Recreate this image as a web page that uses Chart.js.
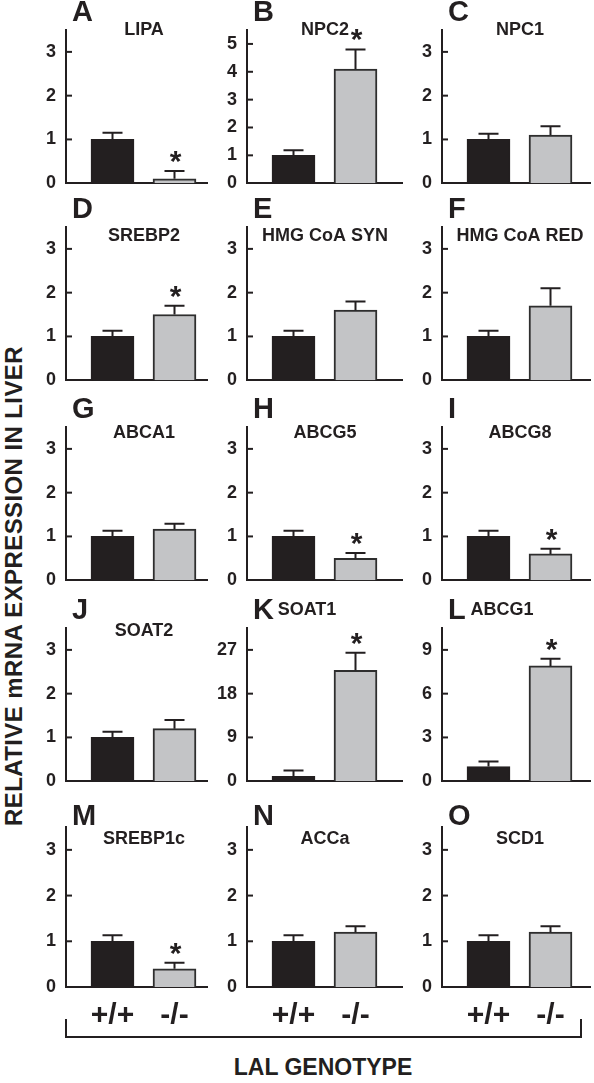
<!DOCTYPE html>
<html>
<head>
<meta charset="utf-8">
<script src="https://cdn.jsdelivr.net/npm/chart.js@4.4.1/dist/chart.umd.min.js"></script>
<style>
  body { margin: 0; background: #fff; width: 594px; height: 1083px; position: relative; overflow: hidden;
         font-family: Arial, "Liberation Sans", Helvetica, sans-serif; color: #231f20; }
  canvas { position: absolute; }
  .ylab { position: absolute; left: 14px; top: 586px; transform: translate(-50%, -50%) rotate(-90deg);
          font-weight: bold; font-size: 24px; letter-spacing: 0.4px; white-space: nowrap; }
  .bracket { position: absolute; left: 65px; top: 1019px; width: 517px; height: 19px; box-sizing: border-box;
             border: 2.5px solid #231f20; border-top: none; }
  .xlab { position: absolute; left: 323px; top: 1067px; transform: translate(-50%, -50%);
          font-weight: bold; font-size: 23px; white-space: nowrap; }
</style>
</head>
<body>
<div class="ylab">RELATIVE mRNA EXPRESSION IN LIVER</div>
<div class="bracket"></div>
<div class="xlab">LAL GENOTYPE</div>
<script>
// values: +/+ (black) vs -/- (grey), mean and upper error
const genotypes = ['+/+', '-/-'];
const letters = ['A','B','C','D','E','F','G','H','I','J','K','L','M','N','O'];
const genes = ['LIPA','NPC2','NPC1','SREBP2','HMG CoA SYN','HMG CoA RED','ABCA1','ABCG5','ABCG8',
               'SOAT2','SOAT1','ABCG1','SREBP1c','ACCa','SCD1'];
const wildType    = [1.0, 1.0, 1.0, 1.0, 1.0, 1.0, 1.0, 1.0, 1.0, 1.0, 1.0, 1.0, 1.0, 1.0, 1.0];
const wildTypeErr = [0.15, 0.18, 0.13, 0.13, 0.13, 0.13, 0.13, 0.13, 0.13, 0.13, 1.2, 0.35, 0.13, 0.13, 0.13];
const knockout    = [0.1, 4.1, 1.1, 1.5, 1.6, 1.7, 1.17, 0.5, 0.6, 1.2, 22.8, 7.9, 0.4, 1.2, 1.2];
const knockoutErr = [0.18, 0.7, 0.2, 0.2, 0.2, 0.4, 0.12, 0.12, 0.12, 0.2, 3.6, 0.5, 0.13, 0.13, 0.13];
const significant = [1, 1, 0, 1, 0, 0, 0, 1, 1, 0, 1, 1, 1, 0, 0];
const yMax  = [3.5, 5.5, 3.5, 3.5, 3.5, 3.5, 3.5, 3.5, 3.5, 3.5, 31.5, 10.5, 3.5, 3.5, 3.5];
const yStep = [1, 1, 1, 1, 1, 1, 1, 1, 1, 1, 9, 3, 1, 1, 1];

// layout
const colX = [66, 247, 442], colLen = [141, 155, 148];
const rowZero = [190, 387, 587, 788, 987];
const titleDy = [148, 148, 148, 139, 139, 139, 142, 142, 142, 145, 166, 166, 143, 143, 143];
const ink = '#231f20';
const FONT = 'Arial, "Liberation Sans", sans-serif';
const PX_PER_X = 62;   // distance between the two bar centres
const TOP = 30;        // canvas space above the axis top

const decor = {
  id: 'decor',
  afterDatasetsDraw(chart) {
    const ctx = chart.ctx, i = chart.options.panel;
    const y = chart.scales.y, meta = chart.getDatasetMeta(0);
    const means = [wildType[i], knockout[i]], errs = [wildTypeErr[i], knockoutErr[i]];
    ctx.save();
    ctx.strokeStyle = ink; ctx.lineWidth = 2;
    meta.data.forEach((bar, j) => {
      const yt = y.getPixelForValue(means[j] + errs[j]);
      ctx.beginPath();
      ctx.moveTo(bar.x, bar.y); ctx.lineTo(bar.x, yt);
      ctx.moveTo(bar.x - 10, yt); ctx.lineTo(bar.x + 10, yt);
      ctx.stroke();
      if (j === 1 && significant[i]) {
        ctx.font = 'bold 30px ' + FONT; ctx.fillStyle = ink; ctx.textAlign = 'center';
        const m = ctx.measureText('*');
        ctx.fillText('*', bar.x + 1, yt - 8 - m.actualBoundingBoxDescent);
      }
    });
    ctx.restore();
  },
  afterDraw(chart) {
    const ctx = chart.ctx, i = chart.options.panel, y = chart.scales.y;
    const left = chart.chartArea.left, zero = y.getPixelForValue(0);
    ctx.save();
    ctx.strokeStyle = ink; ctx.lineWidth = 2;
    y.ticks.forEach(t => {
      if (t.value === 0) return;
      const p = y.getPixelForValue(t.value);
      ctx.beginPath(); ctx.moveTo(left, p); ctx.lineTo(left + 6, p); ctx.stroke();
    });
    ctx.fillStyle = ink; ctx.textBaseline = 'alphabetic';
    ctx.font = 'bold 29px ' + FONT; ctx.textAlign = 'left';
    ctx.fillText(letters[i], left + 6, zero - 162);
    ctx.font = 'bold 18px ' + FONT; ctx.textAlign = 'center';
    let tx = left + 78;
    if (i === 10 || i === 11) tx = left + 60;
    ctx.fillText(genes[i], tx, zero - titleDy[i]);
    ctx.restore();
  }
};

letters.forEach((letter, i) => {
  const r = Math.floor(i / 3), c = i % 3;
  const bottom = r === 4;
  const len = colLen[c];
  const xAxisH = bottom ? 46 : 0;
  const cv = document.createElement('canvas');
  const w = 50 + len + 4, h = TOP + 160 + xAxisH + 14;
  cv.width = w; cv.height = h;
  cv.style.left = (colX[c] - 50) + 'px';
  cv.style.top = (rowZero[r] - 160 - TOP) + 'px';
  document.body.appendChild(cv);
  const xMin = 1 - 46.5 / PX_PER_X;
  new Chart(cv, {
    type: 'bar',
    data: {
      datasets: [{
        data: genotypes.map((g, j) => ({ x: j + 1, y: [wildType[i], knockout[i]][j] })),
        backgroundColor: [ink, '#c3c4c6'],
        borderColor: [ink, '#2e2e2e'],
        borderWidth: 2,
        barThickness: 43
      }]
    },
    options: {
      panel: i,
      responsive: false, animation: false, devicePixelRatio: 1,
      layout: { padding: { top: TOP, right: 4, bottom: 14, left: 0 } },
      plugins: { legend: { display: false }, tooltip: { enabled: false } },
      scales: {
        x: {
          type: 'linear', offset: false, min: xMin, max: xMin + len / PX_PER_X,
          grid: { display: false, drawTicks: false },
          border: { display: true, width: 2, color: ink },
          afterBuildTicks: a => { a.ticks = genotypes.map((g, j) => ({ value: j + 1 })); },
          ticks: { display: bottom, autoSkip: false, maxRotation: 0, color: ink, padding: 11,
                   font: { family: FONT, size: 30, weight: 'bold' },
                   callback: v => genotypes[v - 1] },
          afterFit: a => { a.height = xAxisH; }
        },
        y: {
          min: 0, max: yMax[i],
          grid: { display: false, drawTicks: false },
          border: { display: true, width: 2, color: ink },
          afterBuildTicks: a => {
            const t = [];
            for (let v = 0; v <= yMax[i] + 1e-9; v += yStep[i]) t.push({ value: v });
            a.ticks = t;
          },
          ticks: { color: ink, padding: 10, font: { family: FONT, size: 18, weight: 'bold' } },
          afterFit: a => { a.width = 50; }
        }
      }
    },
    plugins: [decor]
  });
});
</script>
</body>
</html>
